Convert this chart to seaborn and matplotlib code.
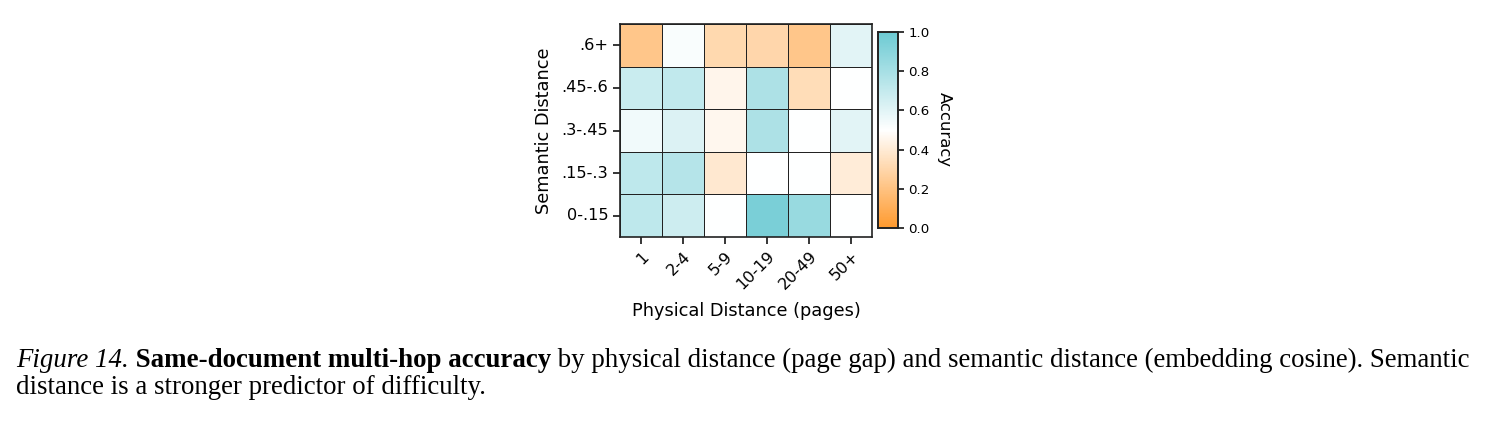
import numpy as np
import pandas as pd
import seaborn as sns
import matplotlib.pyplot as plt
from matplotlib.colors import LinearSegmentedColormap

# data
physical_bins = ['1', '2-4', '5-9', '10-19', '20-49', '50+']
semantic_bins = ['.6+', '.45-.6', '.3-.45', '.15-.3', '0-.15']
acc_6plus = [0.22, 0.52, 0.31, 0.30, 0.22, 0.60]
acc_45_6 = [0.68, 0.71, 0.45, 0.78, 0.33, 0.50]
acc_3_45 = [0.55, 0.62, 0.46, 0.78, 0.50, 0.60]
acc_15_3 = [0.72, 0.75, 0.39, 0.50, 0.50, 0.41]
acc_0_15 = [0.72, 0.67, 0.50, 0.95, 0.85, 0.50]

df = pd.DataFrame([acc_6plus, acc_45_6, acc_3_45, acc_15_3, acc_0_15],
                  index=semantic_bins, columns=physical_bins)

cmap = LinearSegmentedColormap.from_list('or_teal', ['#ff9a2e', '#ffffff', '#6ccad3'])

fig = plt.figure(figsize=(14.91, 4.21), dpi=100)
ax = fig.add_axes([620 / 1491, 1 - 237 / 421, 252 / 1491, 213 / 421])
cax = fig.add_axes([878 / 1491, 1 - 228 / 421, 20 / 1491, 196 / 421])

sns.heatmap(df, ax=ax, cbar_ax=cax, cmap=cmap, vmin=0, vmax=1,
            linewidths=0.6, linecolor='#222222')
for s in ax.spines.values():
    s.set_visible(True)
    s.set_linewidth(1.2)
    s.set_color('#222222')

ax.set_xlabel('Physical Distance (pages)', fontsize=12.8, labelpad=7)
ax.set_ylabel('Semantic Distance', fontsize=12.8, labelpad=6)
ax.tick_params(labelsize=11.6, length=5, width=1.1)
plt.setp(ax.get_xticklabels(), rotation=45, ha='right', rotation_mode='anchor')
plt.setp(ax.get_yticklabels(), rotation=0)

cax.tick_params(labelsize=9.6, length=4, width=1.1)
cax.set_yticks([0, 0.2, 0.4, 0.6, 0.8, 1.0])
cax.set_ylabel('Accuracy', fontsize=11.8, rotation=270, labelpad=16)
for s in cax.spines.values():
    s.set_visible(True)
    s.set_linewidth(1.2)
    s.set_color('#222222')

# caption with mixed styles
fig.canvas.draw()
r = fig.canvas.get_renderer()
serif = 'Liberation Serif'
fs = 19.4
pieces = [('Figure 14.', 'italic', 'normal'),
          (' Same-document multi-hop accuracy', 'normal', 'bold'),
          (' by physical distance (page gap) and semantic distance (embedding cosine). Semantic', 'normal', 'normal')]
x = 16 / 1491
y1 = 1 - 367 / 421
for txt, st, wt in pieces:
    t = fig.text(x, y1, txt, family=serif, style=st, weight=wt, fontsize=fs, va='baseline')
    bb = t.get_window_extent(r)
    x = bb.x1 / fig.bbox.width
fig.text(16 / 1491, 1 - 394 / 421, 'distance is a stronger predictor of difficulty.',
         family=serif, fontsize=fs, va='baseline')

fig.savefig('out.png', dpi=100)
